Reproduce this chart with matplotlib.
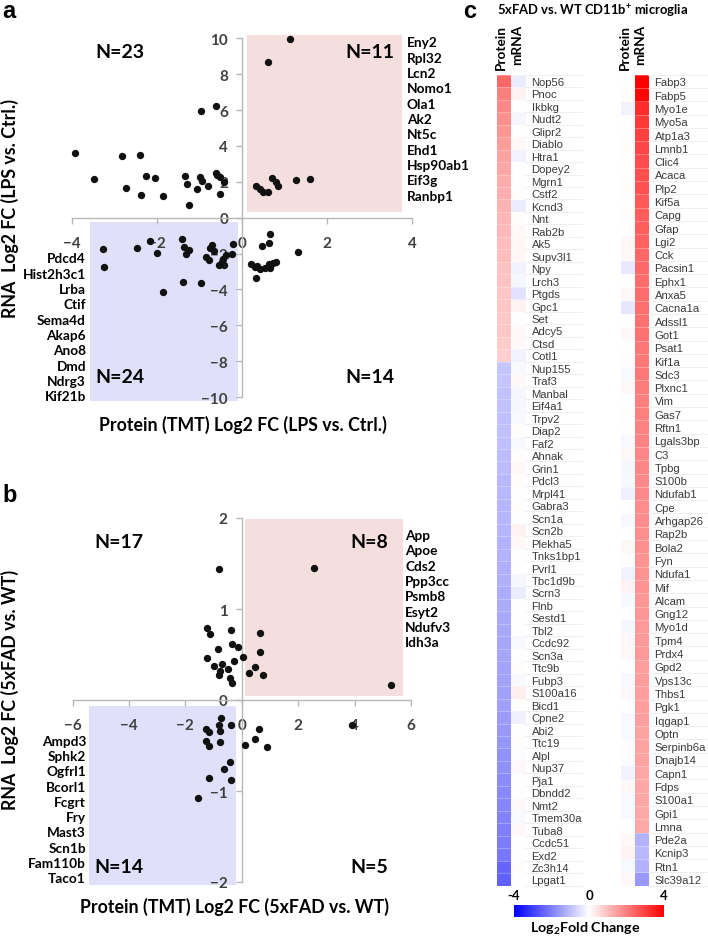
import numpy as np
import matplotlib
matplotlib.use("Agg")
import matplotlib.pyplot as plt
from matplotlib.patches import Rectangle
from matplotlib.colors import LinearSegmentedColormap
from matplotlib import transforms

# ---- panel a: LPS vs Ctrl (protein log2FC, RNA log2FC) ----
lps_protein = [-3.94, -3.49, -2.82, -2.73, -2.41, -2.38, -2.25, -2.04, -1.85, -1.35, -1.29, -1.25,
               -1.07, -0.98, -0.96, -0.80, -0.62, -0.61, -0.59, -0.42, -0.51, -0.95, -0.52,
               1.13, 0.61, 0.32, 0.42, 0.50, 0.61, 0.71, 0.79, 0.84, 1.27, 1.60,
               0.66, 0.48, 0.63, 1.31, 0.21, 0.31, 0.42, 0.32, 0.63, 0.67, 0.79, 0.72, 0.55, 0.36,
               -3.28, -3.25, -2.47, -2.17, -2.00, -1.85, -1.41, -1.37, -1.25, -1.31, -1.38, -0.96,
               -0.85, -0.77, -0.75, -0.70, -0.65, -0.53, -0.42, -0.44, -0.38, -0.21, -0.24, -0.48]
lps_rna = [3.63, 2.17, 3.41, 1.67, 3.47, 1.24, 2.30, 2.21, 1.19, 2.30, 1.87, 0.72,
           1.60, 2.24, 5.95, 1.76, 6.23, 2.49, 2.36, 1.98, 1.34, 2.05, 2.25,
           9.96, 8.66, 1.74, 1.58, 1.43, 1.43, 2.23, 1.98, 1.76, 2.08, 2.17,
           -0.91, -1.58, -1.41, -1.91, -2.60, -2.74, -2.88, -3.36, -2.60, -2.80, -2.47, -2.55, -2.78, -2.70,
           -1.76, -2.75, -1.67, -1.32, -1.95, -4.14, -1.21, -1.63, -1.82, -2.04, -3.60, -3.67,
           -2.21, -2.35, -1.69, -1.52, -1.85, -2.62, -2.62, -2.28, -2.10, -1.46, -2.04, -2.45]
lps_up_genes = ["Eny2", "Rpl32", "Lcn2", "Nomo1", "Ola1", "Ak2", "Nt5c", "Ehd1",
                "Hsp90ab1", "Eif3g", "Ranbp1"]
lps_down_genes = ["Pdcd4", "Hist2h3c1", "Lrba", "Ctif", "Sema4d", "Akap6", "Ano8", "Dmd",
                  "Ndrg3", "Kif21b"]
lps_counts = ["N=23", "N=11", "N=24", "N=14"]

# ---- panel b: 5xFAD vs WT ----
fad_protein = [-0.82, -1.22, -1.12, -0.38, -0.85, -0.35, -0.13, -1.23, -0.71, -0.97, -0.26, -0.48,
               -0.76, -0.82, -0.43, -0.33,
               2.55, 0.66, 0.66, 0.27, 0.48, 0.74, 5.29, 0.05,
               3.92, 0.61, 0.13, 0.47, 0.89,
               -0.73, -1.27, -1.15, -0.78, -0.39, -0.80, -1.28, -1.15, -0.78, -0.43, -0.63, -1.15,
               -0.39, -1.55]
fad_rna = [1.44, 0.79, 0.72, 0.77, 0.56, 0.62, 0.58, 0.46, 0.40, 0.37, 0.43, 0.34,
           0.32, 0.27, 0.24, 0.19,
           1.45, 0.74, 0.53, 0.30, 0.36, 0.28, 0.17, 0.47,
           -0.27, -0.32, -0.49, -0.43, -0.52,
           -0.20, -0.32, -0.35, -0.34, -0.28, -0.28, -0.45, -0.51, -0.46, -0.68, -0.76, -0.86,
           -0.88, -1.08]
fad_up_genes = ["App", "Apoe", "Cds2", "Ppp3cc", "Psmb8", "Esyt2", "Ndufv3", "Idh3a"]
fad_down_genes = ["Ampd3", "Sphk2", "Ogfrl1", "Bcorl1", "Fcgrt", "Fry", "Mast3", "Scn1b",
                  "Fam110b", "Taco1"]
fad_counts = ["N=17", "N=8", "N=14", "N=5"]

# ---- panel c: heatmap (protein, mRNA log2 FC) ----
heat1_genes = ["Nop56", "Pnoc", "Ikbkg", "Nudt2", "Glipr2", "Diablo", "Htra1", "Dopey2", "Mgrn1",
               "Cstf2", "Kcnd3", "Nnt", "Rab2b", "Ak5", "Supv3l1", "Npy", "Lrch3", "Ptgds", "Gpc1",
               "Set", "Adcy5", "Ctsd", "Cotl1", "Nup155", "Traf3", "Manbal", "Eif4a1", "Trpv2",
               "Diap2", "Faf2", "Ahnak", "Grin1", "Pdcl3", "Mrpl41", "Gabra3", "Scn1a", "Scn2b",
               "Plekha5", "Tnks1bp1", "Pvrl1", "Tbc1d9b", "Scrn3", "Flnb", "Sestd1", "Tbl2",
               "Ccdc92", "Scn3a", "Ttc9b", "Fubp3", "S100a16", "Bicd1", "Cpne2", "Abi2", "Ttc19",
               "Alpl", "Nup37", "Pja1", "Dbndd2", "Nmt2", "Tmem30a", "Tuba8", "Ccdc51", "Exd2",
               "Zc3h14", "Lpgat1"]
heat1_protein = [2.4, 2.0, 1.85, 1.75, 1.65, 1.55, 1.45, 1.4, 1.3, 1.25, 1.2, 1.15, 1.1, 1.05,
                 1.0, 0.95, 0.95, 0.9, 0.9, 0.85, 0.85, 0.8, 0.75,
                 -0.9, -0.9, -0.95, -0.95, -1.0, -1.0, -1.0, -1.05, -1.05, -1.1, -1.1, -1.15,
                 -1.15, -1.15, -1.2, -1.2, -1.25, -1.25, -1.3, -1.3, -1.35, -1.35, -1.4, -1.4,
                 -1.45, -1.45, -1.5, -1.5, -1.55, -1.6, -1.65, -1.7, -1.75, -1.8, -1.85, -1.9,
                 -1.95, -2.0, -2.05, -2.1, -2.4, -2.5]
heat1_mrna = [-0.3, 0.2, 0, -0.15, 0, 0.1, -0.2, 0, 0, 0.05,
              -0.3, 0.05, 0.1, 0.15, 0.15, -0.2, -0.15, -0.45, 0.2, 0,
              0.1, 0.1, -0.2, -0.1, 0.1, -0.15, -0.15, -0.1, 0.05, -0.1,
              0.05, 0.1, 0.05, 0, 0.05, 0, 0.2, 0.1, 0, 0,
              -0.15, -0.3, 0, 0, 0, -0.1, 0, 0.05, -0.1, 0.25,
              0.05, -0.25, 0, 0.05, -0.05, 0.1, 0, 0, 0.1, -0.1,
              0.1, 0, 0, 0.05, 0]
heat2_genes = ["Fabp3", "Fabp5", "Myo1e", "Myo5a", "Atp1a3", "Lmnb1", "Clic4", "Acaca", "Plp2",
               "Kif5a", "Capg", "Gfap", "Lgi2", "Cck", "Pacsin1", "Ephx1", "Anxa5", "Cacna1a",
               "Adssl1", "Got1", "Psat1", "Kif1a", "Sdc3", "Plxnc1", "Vim", "Gas7", "Rftn1",
               "Lgals3bp", "C3", "Tpbg", "S100b", "Ndufab1", "Cpe", "Arhgap26", "Rap2b", "Bola2",
               "Fyn", "Ndufa1", "Mif", "Alcam", "Gng12", "Myo1d", "Tpm4", "Prdx4", "Gpd2",
               "Vps13c", "Thbs1", "Pgk1", "Iqgap1", "Optn", "Serpinb6a", "Dnajb14", "Capn1",
               "Fdps", "S100a1", "Gpi1", "Lmna", "Pde2a", "Kcnip3", "Rtn1", "Slc39a12"]
heat2_protein = [0, 0.05, -0.2, 0, 0, 0.05, 0, 0, 0.05, 0,
                 0.05, 0, 0.1, 0.1, -0.35, 0, 0.15, -0.4, 0, 0.1,
                 0, 0.05, -0.1, 0.1, 0, 0.05, 0, -0.1, 0.15, -0.15,
                 -0.1, -0.25, 0, -0.1, 0, 0.15, 0.05, -0.2, 0.2, -0.1,
                 0, -0.15, 0.1, 0.1, 0, -0.1, 0.1, 0, -0.1, -0.1,
                 0.05, -0.05, -0.2, 0.1, -0.1, -0.1, 0, 0.1, 0.2, -0.1, 0.1]
heat2_mrna = [4.0, 3.9, 3.3, 3.1, 3.0, 2.9, 2.8, 2.75, 2.7, 2.6, 2.55, 2.5, 2.45, 2.4, 2.35,
              2.3, 2.3, 2.25, 2.2, 2.2, 2.15, 2.1, 2.1, 2.05, 2.0, 2.0, 1.95, 1.95, 1.9, 1.9,
              1.85, 1.85, 1.8, 1.8, 1.75, 1.75, 1.7, 1.7, 1.7, 1.65, 1.65, 1.6, 1.6, 1.6, 1.55,
              1.55, 1.5, 1.5, 1.5, 1.45, 1.45, 1.45, 1.4, 1.4, 1.4, 1.35, 1.35,
              -1.2, -1.1, -1.2, -1.6]

W, H = 708, 937
PINK = "#f5dede"
LAV = "#e0e0fa"
GREY = "#b8b8b8"
SANS = "Lato"
ARIAL = "Liberation Sans"

plt.rcParams["mathtext.fontset"] = "custom"
plt.rcParams["mathtext.rm"] = "Lato:bold"
plt.rcParams["mathtext.bf"] = "Lato:bold"

fig = plt.figure(figsize=(W / 100, H / 100), dpi=100)


def box(x0, y0, x1, y1):
    # pixel box (top-left origin) -> figure fraction rect
    return [x0 / W, 1 - y1 / H, (x1 - x0) / W, (y1 - y0) / H]


def ftext(x, y, s, **kw):
    kw.setdefault("family", SANS)
    return fig.text(x / W, 1 - y / H, s, **kw)


def scatter_panel(rect, xs, ys, xlim, ylim, xticks, yticks, pink, lav):
    ax = fig.add_axes(box(*rect))
    ax.set_xlim(*xlim)
    ax.set_ylim(*ylim)
    ax.add_patch(Rectangle((pink[0], pink[1]), pink[2] - pink[0], pink[3] - pink[1],
                           fc=PINK, ec="none", zorder=0, clip_on=False))
    ax.add_patch(Rectangle((lav[0], lav[1]), lav[2] - lav[0], lav[3] - lav[1],
                           fc=LAV, ec="none", zorder=0, clip_on=False))
    ax.scatter(xs, ys, s=28, c="#111111", linewidths=0, zorder=4, clip_on=False)
    ax.patch.set_visible(False)
    for side in ["top", "right"]:
        ax.spines[side].set_visible(False)
    for side in ["left", "bottom"]:
        ax.spines[side].set_position(("data", 0))
        ax.spines[side].set_color(GREY)
        ax.spines[side].set_linewidth(1.0)
    ax.set_xticks(xticks)
    ax.set_yticks(yticks)
    ax.tick_params(color=GREY, length=4, width=1, labelsize=11, labelcolor="#404040")
    ax.tick_params(axis="x", pad=9)
    ax.tick_params(axis="y", pad=6)
    for lab in ax.get_xticklabels() + ax.get_yticklabels():
        lab.set_fontweight("bold")
        lab.set_family(SANS)
    return ax


NSIZE = 14
GSIZE = 9.8
LSIZE = 12.8

# ---- panel a ----
scatter_panel((72, 39.3, 412, 398), lps_protein, lps_rna, (-4, 4), (-10, 10),
              [-4, -2, 0, 2, 4], list(range(-10, 11, 2)),
              (0.11, 0.32, 3.77, 10.17), (-3.58, -10.2, -0.1, -0.24))
ftext(120, 52, lps_counts[0], fontsize=NSIZE, weight="bold", ha="center", va="center")
ftext(370, 52, lps_counts[1], fontsize=NSIZE, weight="bold", ha="center", va="center")
ftext(120, 378, lps_counts[2], fontsize=NSIZE, weight="bold", ha="center", va="center")
ftext(370, 378, lps_counts[3], fontsize=NSIZE, weight="bold", ha="center", va="center")
for i, g in enumerate(lps_up_genes):
    ftext(407, 43.3 + i * 15.34, g, fontsize=GSIZE, weight="bold", ha="left", va="center")
for i, g in enumerate(lps_down_genes):
    ftext(86, 259.3 + i * 15.33, g, fontsize=GSIZE, weight="bold", ha="right", va="center")
ftext(243, 425, "Protein (TMT) Log2 FC (LPS vs. Ctrl.)", fontsize=LSIZE, weight="bold",
      ha="center", va="center")
ftext(10, 208, "RNA  Log2 FC (LPS vs. Ctrl.)", fontsize=LSIZE, weight="bold",
      ha="center", va="center", rotation=90)
ftext(2, 12, "a", fontsize=17, weight="bold", ha="left", va="center", family=ARIAL)

# ---- panel b ----
scatter_panel((72.5, 519, 411, 883), fad_protein, fad_rna, (-6, 6), (-2, 2),
              [-6, -4, -2, 0, 2, 4, 6], [-2, -1, 0, 1, 2],
              (0.12, 0.04, 5.7, 1.99), (-5.4, -2.03, -0.2, -0.07))
ftext(119, 542, fad_counts[0], fontsize=NSIZE, weight="bold", ha="center", va="center")
ftext(369, 542, fad_counts[1], fontsize=NSIZE, weight="bold", ha="center", va="center")
ftext(119, 868, fad_counts[2], fontsize=NSIZE, weight="bold", ha="center", va="center")
ftext(369, 868, fad_counts[3], fontsize=NSIZE, weight="bold", ha="center", va="center")
for i, g in enumerate(fad_up_genes):
    ftext(405, 536 + i * 15.33, g, fontsize=GSIZE, weight="bold", ha="left", va="center")
for i, g in enumerate(fad_down_genes):
    ftext(86, 741.7 + i * 15.29, g, fontsize=GSIZE, weight="bold", ha="right", va="center")
ftext(234, 907, "Protein (TMT) Log2 FC (5xFAD vs. WT)", fontsize=LSIZE, weight="bold",
      ha="center", va="center")
ftext(10, 690, "RNA  Log2 FC (5xFAD vs. WT)", fontsize=LSIZE, weight="bold",
      ha="center", va="center", rotation=90)
ftext(2, 495, "b", fontsize=17, weight="bold", ha="left", va="center", family=ARIAL)

# ---- panel c ----
cmap = LinearSegmentedColormap.from_list("bwr_fc", ["#0000ff", "#ffffff", "#ff0000"])


def heat_panel(x0, x1, label_end, genes, prot, mrna):
    ax = fig.add_axes(box(x0, 75.7, x1, 886.7))
    data = np.column_stack([prot, mrna])
    ax.imshow(data, cmap=cmap, vmin=-4, vmax=4, aspect="auto", interpolation="nearest")
    n = len(genes)
    ax.set_xticks([])
    ax.set_yticks(range(n))
    ax.set_yticklabels(genes, family=ARIAL, fontsize=8.1, color="#3a3a3a")
    ax.yaxis.tick_right()
    ax.tick_params(axis="y", length=0, pad=4.5)
    for s in ax.spines.values():
        s.set_visible(False)
    tr = transforms.blended_transform_factory(ax.transAxes, ax.transData)
    xend = 1 + (label_end - x1) / (x1 - x0)
    for i in range(n + 1):
        ax.plot([1, xend], [i - 0.5, i - 0.5], transform=tr, color="#ececec",
                lw=0.6, clip_on=False, zorder=0)
        ax.plot([0, 1], [i - 0.5, i - 0.5], transform=tr, color="white",
                lw=0.4, alpha=0.5, clip_on=False)
    # column headers
    w = (x1 - x0) / 2
    ftext(x0 + w * 0.5 - 2.5, 25, "Protein", fontsize=9.8, weight="bold", ha="center",
          va="top", rotation=90)
    ftext(x0 + w * 1.5 - 1.5, 25, "mRNA", fontsize=9.8, weight="bold", ha="center",
          va="top", rotation=90)
    return ax


heat_panel(496.7, 525.3, 581.7, heat1_genes, heat1_protein, heat1_mrna)
heat_panel(621, 648.3, 708, heat2_genes, heat2_protein, heat2_mrna)

ftext(463, 12, "c", fontsize=17, weight="bold", ha="left", va="center", family=ARIAL)
ftext(497, 16, r"5xFAD vs. WT CD11b$^{\mathbf{+}}$ microglia", fontsize=9.4,
      weight="bold", ha="left", va="baseline")

# colour bar
cax = fig.add_axes(box(514, 906, 664, 918.3))
grad = np.linspace(-4, 4, 256).reshape(1, -1)
cax.imshow(grad, cmap=cmap, vmin=-4, vmax=4, aspect="auto", extent=(-4, 4, 0, 1))
cax.set_yticks([])
cax.set_xticks([-4, 0, 4])
cax.set_xticklabels(["-4", "0", "4"], fontweight="bold", fontsize=9.5, family=SANS)
cax.xaxis.tick_top()
cax.tick_params(axis="x", length=0, pad=3)
for s in cax.spines.values():
    s.set_visible(False)
ftext(585, 933, r"Log$_{\mathbf{2}}$Fold Change", fontsize=10.3, weight="bold",
      ha="center", va="baseline")

fig.savefig("out.png", dpi=100)
